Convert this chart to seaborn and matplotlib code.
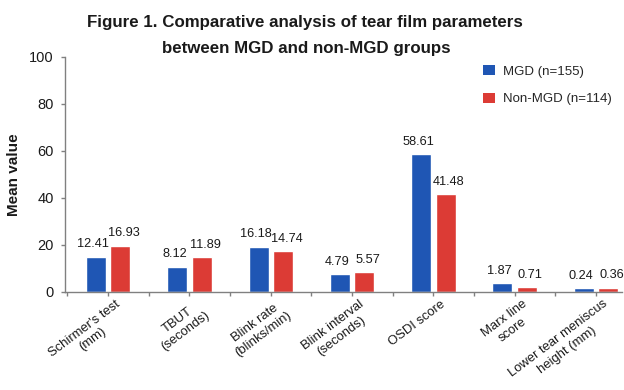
import matplotlib
matplotlib.use("Agg")
import matplotlib.pyplot as plt
import matplotlib.transforms as mtransforms
from matplotlib.patches import Patch
import seaborn as sns
import pandas as pd

# ---- data ----
categories = ["Schirmer's test\n(mm)", "TBUT\n(seconds)", "Blink rate\n(blinks/min)",
              "Blink interval\n(seconds)", "OSDI score", "Marx line\nscore",
              "Lower tear meniscus\nheight (mm)"]
groups = ["MGD (n=155)", "Non-MGD (n=114)"]
mgd_heights = [14.9, 10.7, 19.2, 7.5, 58.6, 3.6, 1.4]
non_mgd_heights = [19.6, 14.7, 17.2, 8.5, 41.7, 2.1, 1.7]
mgd_labels = ["12.41", "8.12", "16.18", "4.79", "58.61", "1.87", "0.24"]
non_mgd_labels = ["16.93", "11.89", "14.74", "5.57", "41.48", "0.71", "0.36"]
y_ticks = [0, 20, 40, 60, 80, 100]
title_lines = ["Figure 1. Comparative analysis of tear film parameters",
               "between MGD and non-MGD groups"]
y_label = "Mean value"

colors = ["#1f56b4", "#dc3b35"]

df = pd.DataFrame({
    "Parameter": categories * 2,
    "Group": [groups[0]] * len(categories) + [groups[1]] * len(categories),
    "Value": mgd_heights + non_mgd_heights,
})

sns.set_theme(style="white")
plt.rcParams["font.family"] = ["Liberation Sans", "DejaVu Sans"]

W, H = 624, 390
fig = plt.figure(figsize=(W / 100, H / 100), dpi=100)
ax = fig.add_axes([65 / W, (H - 291.7) / H, (622 - 65) / W, (291.7 - 57) / H])

sns.barplot(data=df, x="Parameter", y="Value", hue="Group", hue_order=groups,
            order=categories, palette=colors, width=0.6, gap=0.18,
            saturation=1, ax=ax, legend=False)

for cont, labs, dx in zip(ax.containers, [mgd_labels, non_mgd_labels], [-2.0, 2.5]):
    for bar, lab in zip(cont.patches, labs):
        ax.annotate(lab, (bar.get_x() + bar.get_width() / 2, bar.get_height()),
                    xytext=(dx, 4.5), textcoords="offset points",
                    ha="center", va="bottom", fontsize=9.2, color="#1a1a1a")

ax.set_xlim(-0.53, 6.32)
ax.set_ylim(0, 100)
ax.set_yticks(y_ticks)
ax.set_xticks(range(len(categories)))
ax.set_xticks([k + 0.5 for k in range(-1, 6)], minor=True)
ax.set_xticklabels(categories, rotation=37, ha="right", va="top",
                   rotation_mode="anchor", multialignment="center",
                   fontsize=9.4, color="#1a1a1a")
ax.tick_params(axis="x", which="both", direction="out", length=3, width=1,
               color="#808080", bottom=True, pad=1.5)
ax.tick_params(axis="y", direction="out", length=3, width=1, color="#808080",
               left=True, pad=5, labelsize=10.5, labelcolor="#1a1a1a")
offset = mtransforms.ScaledTranslation(0.07, 0.0, fig.dpi_scale_trans)
for lab in ax.get_xticklabels():
    lab.set_transform(lab.get_transform() + offset)

for s in ["top", "right"]:
    ax.spines[s].set_visible(False)
for s in ["left", "bottom"]:
    ax.spines[s].set_color("#808080")
    ax.spines[s].set_linewidth(1.0)

ax.set_xlabel("")
ax.set_ylabel(y_label, fontsize=11, fontweight="bold", color="#1a1a1a", va="center")
ax.yaxis.set_label_coords((14 - 65) / (622 - 65), 0.5)

fig.text(305 / W, (H - 22) / H, title_lines[0], ha="center", va="center",
         fontsize=12.2, fontweight="bold", color="#1a1a1a")
fig.text(306 / W, (H - 48) / H, title_lines[1], ha="center", va="center",
         fontsize=12.2, fontweight="bold", color="#1a1a1a")

handles = [Patch(facecolor=c, edgecolor="none") for c in colors]
fig.legend(handles, groups, loc="upper left", bbox_to_anchor=(483 / W, (H - 65) / H),
           frameon=False, fontsize=9.5, handlelength=0.9, handleheight=0.8,
           handletextpad=0.6, labelspacing=1.15, borderpad=0, borderaxespad=0)

fig.savefig("out.png", dpi=100, facecolor="white")
